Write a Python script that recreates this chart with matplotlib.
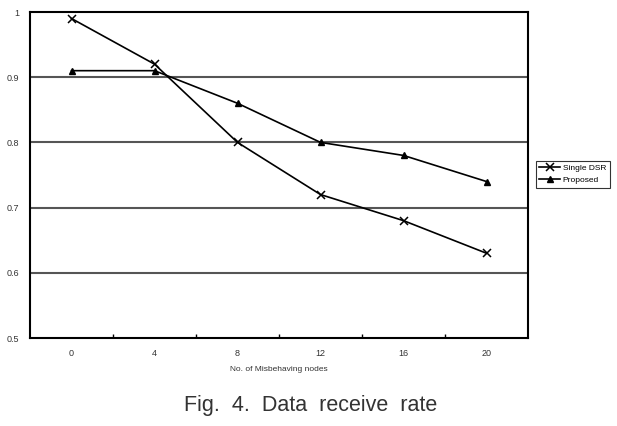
import matplotlib
matplotlib.use("Agg")
import matplotlib.pyplot as plt

# données
nodes = ["0", "4", "8", "12", "16", "20"]
single_dsr = [0.99, 0.92, 0.80, 0.72, 0.68, 0.63]
proposed = [0.91, 0.91, 0.86, 0.80, 0.78, 0.74]
y_ticks = [0.5, 0.6, 0.7, 0.8, 0.9, 1.0]
y_labels = ["0.5", "0.6", "0.7", "0.8", "0.9", "1"]

plt.rcParams['font.family'] = ['Liberation Sans', 'DejaVu Sans']

fig = plt.figure(figsize=(6.17, 4.26), dpi=100)
ax = fig.add_axes([30 / 617, 1 - 338 / 426, 498 / 617, 326 / 426])

x = list(range(len(nodes)))
ax.plot(x, single_dsr, color='black', lw=1.2, marker='x', ms=5.5, mew=1.1, label='Single DSR')
ax.plot(x, proposed, color='black', lw=1.2, marker='^', ms=5, label='Proposed')

ax.set_xlim(-0.5, len(nodes) - 0.5)
ax.set_ylim(0.5, 1.0)
ax.set_yticks(y_ticks)
ax.set_yticklabels(y_labels, fontsize=6.5, color='#333333')
ax.set_xticks(x)
ax.set_xticklabels(nodes, fontsize=6.5, color='#333333')
ax.tick_params(axis='x', length=0, pad=8)
ax.set_xticks([i + 0.5 for i in x[:-1]], minor=True)
ax.tick_params(axis='x', which='minor', direction='in', length=3, width=1)
ax.tick_params(axis='y', length=0, pad=8)

# grille horizontale
for v in y_ticks[1:-1]:
    ax.axhline(v, color='#555555', lw=1.5, zorder=0)

for s in ax.spines.values():
    s.set_linewidth(1.5)

ax.set_xlabel('No. of Misbehaving nodes', fontsize=6, labelpad=6, color='#333333')

leg = ax.legend(loc='upper left', bbox_to_anchor=(1.008, 0.555), fontsize=6,
                frameon=True, fancybox=False, edgecolor='black',
                handlelength=2.5, borderpad=0.4, labelspacing=0.5, handletextpad=0.3)
leg.get_frame().set_linewidth(0.8)

fig.text(311 / 617, 1 - 405 / 426, 'Fig.  4.  Data  receive  rate', ha='center', va='center',
         fontsize=15.5, color='#333333')

fig.savefig('out.png', dpi=100)
